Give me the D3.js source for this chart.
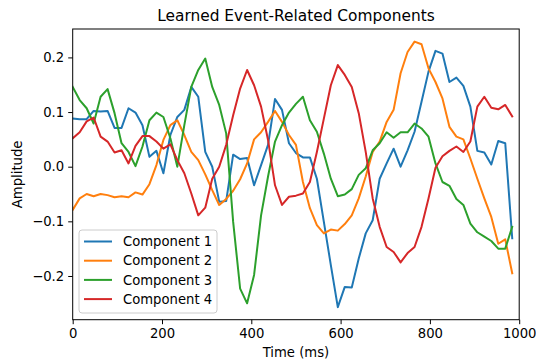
<!DOCTYPE html>
<html>
<head>
<meta charset="utf-8">
<script src="https://cdn.jsdelivr.net/npm/d3@7"></script>
<style>
  body { margin: 0; background: #fff; }
  text { font-family: 'DejaVu Sans', sans-serif; fill: #000; }
</style>
</head>
<body>
<script>
// 64 samples over 1 s
const times = d3.range(64).map(i => (i * 1000) / 64);

const comp1 = [
  0.088, 0.087, 0.087, 0.102, 0.101, 0.102, 0.071, 0.071, 0.107, 0.099,
  0.076, 0.018, 0.029, -0.012, 0.058, 0.091, 0.104, 0.146, 0.128, 0.027,
  0.0, -0.064, -0.063, 0.022, 0.014, 0.016, -0.034, 0.003, 0.04, 0.124,
  0.104, 0.043, 0.025, 0.017, 0.017, -0.022, -0.101, -0.18, -0.257, -0.22,
  -0.221, -0.168, -0.122, -0.098, -0.022, 0.006, 0.033, 0.0, 0.03, 0.064,
  0.119, 0.174, 0.212, 0.207, 0.155, 0.163, 0.148, 0.11, 0.029, 0.026,
  0.004, 0.047, 0.043, -0.131
];
const comp2 = [
  -0.079, -0.058, -0.05, -0.054, -0.05, -0.052, -0.056, -0.054, -0.056, -0.047,
  -0.051, -0.032, 0.003, 0.049, 0.076, 0.085, 0.058, 0.027, 0.012, -0.014,
  -0.043, -0.07, -0.059, -0.044, -0.023, 0.006, 0.05, 0.063, 0.082, 0.102,
  0.082, 0.058, 0.04, -0.028, -0.076, -0.107, -0.122, -0.115, -0.117, -0.105,
  -0.089, -0.058, -0.018, 0.027, 0.046, 0.082, 0.104, 0.171, 0.21, 0.229,
  0.224, 0.18, 0.155, 0.125, 0.073, 0.055, 0.05, 0.015, -0.022, -0.058,
  -0.092, -0.141, -0.133, -0.195
];
const comp3 = [
  0.146, 0.122, 0.107, 0.079, 0.128, 0.142, 0.098, 0.043, 0.027, 0.001,
  0.037, 0.085, 0.099, 0.091, 0.052, 0.0, 0.076, 0.146, 0.177, 0.198,
  0.146, 0.113, 0.061, -0.101, -0.223, -0.25, -0.198, -0.089, -0.018, 0.046,
  0.076, 0.099, 0.115, 0.128, 0.085, 0.064, 0.024, -0.022, -0.054, -0.051,
  -0.041, -0.015, -0.003, 0.03, 0.043, 0.063, 0.053, 0.063, 0.063, 0.079,
  0.07, 0.055, 0.006, -0.028, -0.035, -0.059, -0.07, -0.104, -0.12, -0.128,
  -0.136, -0.15, -0.15, -0.11
];
const comp4 = [
  0.052, 0.063, 0.083, 0.09, 0.055, 0.046, 0.026, 0.03, 0.006, 0.038,
  0.056, 0.056, 0.046, 0.033, 0.041, 0.012, -0.012, -0.049, -0.089, -0.075,
  -0.022, 0.0, 0.04, 0.094, 0.143, 0.177, 0.149, 0.11, 0.049, -0.034,
  -0.07, -0.055, -0.053, -0.049, -0.028, 0.027, 0.088, 0.149, 0.186, 0.168,
  0.146, 0.098, 0.027, -0.058, -0.11, -0.147, -0.156, -0.175, -0.158, -0.147,
  -0.11, -0.058, -0.002, 0.019, 0.029, 0.037, 0.027, 0.046, 0.11, 0.128,
  0.108, 0.105, 0.113, 0.092
];

const seriesNames = ["Component 1", "Component 2", "Component 3", "Component 4"];
const seriesValues = [comp1, comp2, comp3, comp4];
const colors = ["#1f77b4", "#ff7f0e", "#2ca02c", "#d62728"];

const xTicks = [0, 200, 400, 600, 800, 1000];
const yTicks = [-0.2, -0.1, 0.0, 0.1, 0.2];

const width = 536;
const height = 362;
const margin = { top: 29, right: 16.8, bottom: 42.3, left: 72.7 };
const fontSize = 13.2;

const svg = d3.select("body").append("svg")
  .attr("width", width)
  .attr("height", height);

const x = d3.scaleLinear().domain([0, 1000]).range([margin.left, width - margin.right]);
const y = d3.scaleLinear().domain([-0.280, 0.252]).range([height - margin.bottom, margin.top]);

const fmtY = d => d3.format(".1f")(d).replace("-", "\u2212");

const plot = svg.append("g");
plot.append("clipPath").attr("id", "clip")
  .append("rect")
  .attr("x", margin.left).attr("y", margin.top)
  .attr("width", width - margin.left - margin.right)
  .attr("height", height - margin.top - margin.bottom);

const line = d3.line().x((d, i) => x(times[i])).y(d => y(d));

seriesValues.forEach((vals, k) => {
  plot.append("path")
    .datum(vals)
    .attr("clip-path", "url(#clip)")
    .attr("fill", "none")
    .attr("stroke", colors[k])
    .attr("stroke-width", 2)
    .attr("stroke-linejoin", "round")
    .attr("stroke-linecap", "square")
    .attr("d", line);
});

// axes
const styleAxis = g => {
  g.select(".domain").remove();
  g.selectAll(".tick line").attr("stroke", "#000").attr("stroke-width", 1);
  g.selectAll(".tick text").attr("font-size", fontSize).attr("font-family", "DejaVu Sans");
};

svg.append("g")
  .attr("transform", `translate(0,${height - margin.bottom})`)
  .call(d3.axisBottom(x).tickValues(xTicks).tickFormat(d3.format("d")).tickSize(4.5).tickPadding(4))
  .call(styleAxis);

svg.append("g")
  .attr("transform", `translate(${margin.left},0)`)
  .call(d3.axisLeft(y).tickValues(yTicks).tickFormat(fmtY).tickSize(4.5).tickPadding(4))
  .call(styleAxis);

svg.append("rect")
  .attr("x", margin.left).attr("y", margin.top)
  .attr("width", width - margin.left - margin.right)
  .attr("height", height - margin.top - margin.bottom)
  .attr("fill", "none")
  .attr("stroke", "#000")
  .attr("stroke-width", 1);

const text = (str, px, py, size) =>
  svg.append("text").text(str)
    .attr("x", px).attr("y", py)
    .attr("text-anchor", "middle")
    .attr("font-size", size);

text("Learned Event-Related Components", (margin.left + width - margin.right) / 2, 21, 15.4);
text("Time (ms)", (margin.left + width - margin.right) / 2, 357, fontSize);
text("Amplitude", 0, 0, fontSize)
  .attr("transform", `translate(22,${(margin.top + height - margin.bottom) / 2}) rotate(-90)`);

// legend
const legend = svg.append("g").attr("transform", "translate(79,230)");
legend.append("rect")
  .attr("width", 138).attr("height", 83)
  .attr("rx", 3)
  .attr("fill", "#fff").attr("fill-opacity", 0.8)
  .attr("stroke", "#ccc");

seriesNames.forEach((name, k) => {
  const row = legend.append("g").attr("transform", `translate(0,${11.5 + k * 19.2})`);
  row.append("line")
    .attr("x1", 5).attr("x2", 33)
    .attr("stroke", colors[k]).attr("stroke-width", 2);
  row.append("text").text(name)
    .attr("x", 44).attr("dy", "0.35em")
    .attr("font-size", fontSize);
});
</script>
</body>
</html>
